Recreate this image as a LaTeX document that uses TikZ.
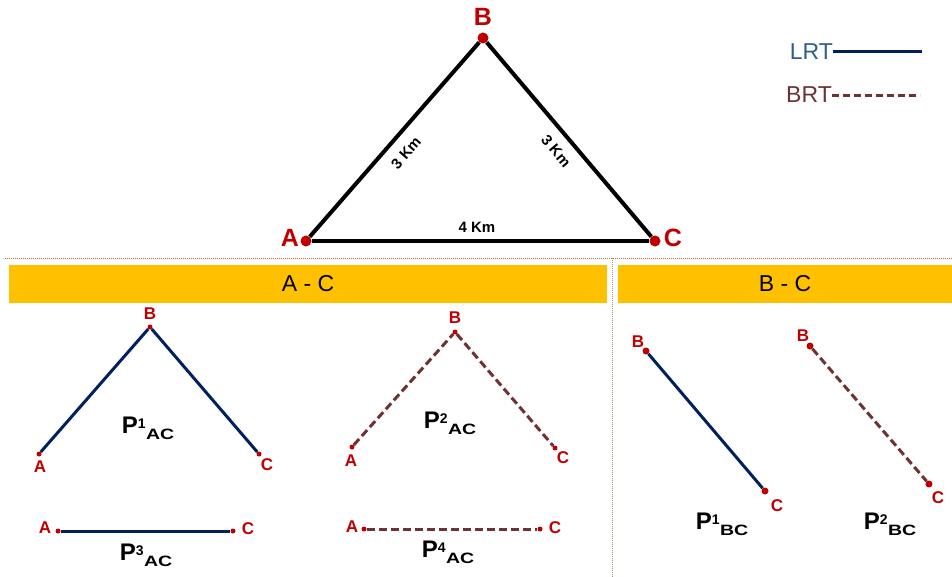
\documentclass[tikz,border=0pt]{standalone}
\usepackage{fontspec}
\setmainfont{Liberation Sans}
\definecolor{dotred}{HTML}{C00000}
\definecolor{navy}{HTML}{002060}
\definecolor{lrtblue}{HTML}{2F5F8F}
\definecolor{brtbrown}{HTML}{6E3232}
\definecolor{barYellow}{HTML}{FFC000}
\definecolor{sepOrange}{HTML}{C07030}
\definecolor{sepGray}{HTML}{A89070}
\newcommand{\fs}[1]{\fontsize{#1}{#1}\selectfont}
\newcommand{\plabel}[2]{{\fs{24}P}\raisebox{5pt}{\fs{14}#1}\raisebox{-6pt}{\fs{15}\hspace{0.5pt}\scalebox{1.3}[1]{#2}}}
\begin{document}
\begin{tikzpicture}[x=1pt,y=-1pt,
  bigdot/.style={circle,fill=dotred,inner sep=0pt,minimum size=11pt},
  smalldot/.style={circle,fill=dotred,inner sep=0pt,minimum size=5pt},
  biglbl/.style={text=dotred,font=\bfseries\fs{25},inner sep=0pt},
  smalllbl/.style={text=dotred,font=\bfseries\fs{17},inner sep=0pt},
  kmlbl/.style={font=\bfseries\fs{15},inner sep=0pt},
  edge/.style={line width=4pt,black},
  lrtline/.style={line width=3pt,navy},
  brtline/.style={line width=3pt,brtbrown,dash pattern=on 8pt off 4pt},
  plbl/.style={font=\bfseries,inner sep=0pt},
  bartxt/.style={font=\fs{23},inner sep=0pt}]
\useasboundingbox (0,0) rectangle (952,577);

% top triangle
\node[bigdot] (tA) at (306,241) {};
\node[bigdot] (tB) at (483,38) {};
\node[bigdot] (tC) at (655,241) {};
\node[biglbl] (tAl) at (290,238) {A};
\node[biglbl] (tBl) at (483,17) {B};
\node[biglbl] (tCl) at (673,238) {C};
\draw[edge] (tA) -- (tB);
\draw[edge] (tB) -- (tC);
\draw[edge] (tA) -- (tC);
\node[kmlbl,rotate=49] (kAB) at (406,153) {3 Km};
\node[kmlbl,rotate=-50] (kBC) at (556,151) {3 Km};
\node[kmlbl] (kAC) at (477,227) {4 Km};

% legend
\node[font=\fs{23},text=lrtblue,inner sep=0pt,anchor=east] (lrt) at (833,52) {LRT};
\coordinate (lrtend) at (922,52);
\draw[line width=3pt,navy] (lrt.east) -- (lrtend);
\node[font=\fs{23},text=brtbrown,inner sep=0pt,anchor=east] (brt) at (832,95) {BRT};
\coordinate (brtend) at (920,96);
\draw[line width=3pt,brtbrown,dash pattern=on 7pt off 4pt] (brt.east |- brtend) -- (brtend);

% separators
\coordinate (hs1) at (5,258);
\coordinate (hs2) at (952,258);
\draw[sepOrange,line width=1pt,dash pattern=on 1pt off 1pt] (hs1) -- (hs2);
\coordinate (vs1) at (612,258);
\coordinate (vs2) at (612,577);
\draw[sepGray,line width=1pt,dash pattern=on 1pt off 1pt] (vs1) -- (vs2);

% bars
\node[fill=barYellow,minimum width=598pt,minimum height=38pt,inner sep=0pt] (barAC) at (308,284) {};
\node[bartxt] (barACt) at (308,284) {A - C};
\node[fill=barYellow,minimum width=335pt,minimum height=38pt,inner sep=0pt] (barBC) at (785.5,284) {};
\node[bartxt] (barBCt) at (785,284) {B - C};

% P1AC
\node[smalldot] (p1A) at (39,454) {};
\node[smalldot] (p1B) at (150,327) {};
\node[smalldot] (p1C) at (259,454) {};
\node[smalllbl] at (40,467) {A};
\node[smalllbl] at (150,314) {B};
\node[smalllbl] at (267,465) {C};
\draw[lrtline] (p1A) -- (p1B) -- (p1C);
\node[plbl] (p1l) at (148,428) {\plabel{1}{AC}};

% P3AC
\node[smalldot] (p3A) at (58,531) {};
\node[smalldot] (p3C) at (233,531) {};
\node[smalllbl] at (45,528) {A};
\node[smalllbl] at (248,529) {C};
\draw[lrtline] (p3A) -- (p3C);
\node[plbl] (p3l) at (146,555) {\plabel{3}{AC}};

% P2AC
\node[smalldot] (p2A) at (352,447) {};
\node[smalldot] (p2B) at (455,332) {};
\node[smalldot] (p2C) at (555,448) {};
\node[smalllbl] at (351,461) {A};
\node[smalllbl] at (455,318) {B};
\node[smalllbl] at (563,458) {C};
\draw[brtline] (p2A) -- (p2B) -- (p2C);
\node[plbl] (p2l) at (450,423) {\plabel{2}{AC}};

% P4AC
\node[smalldot] (p4A) at (364,529) {};
\node[smalldot] (p4C) at (540,529) {};
\node[smalllbl] at (352,527) {A};
\node[smalllbl] at (555,528) {C};
\draw[brtline] (p4A) -- (p4C);
\node[plbl] (p4l) at (448,552) {\plabel{4}{AC}};

% P1BC
\node[smalldot,minimum size=7pt] (q1B) at (646,351) {};
\node[smalldot,minimum size=7pt] (q1C) at (765,491) {};
\node[smalllbl] at (638,342) {B};
\node[smalllbl] at (777,506) {C};
\draw[lrtline] (q1B) -- (q1C);
\node[plbl] (q1l) at (722,524) {\plabel{1}{BC}};

% P2BC
\node[smalldot,minimum size=7pt] (q2B) at (810,346) {};
\node[smalldot,minimum size=7pt] (q2C) at (929,484) {};
\node[smalllbl] at (803,336) {B};
\node[smalllbl] at (938,498) {C};
\draw[brtline] (q2B) -- (q2C);
\node[plbl] (q2l) at (890,524) {\plabel{2}{BC}};
\end{tikzpicture}
\end{document}
